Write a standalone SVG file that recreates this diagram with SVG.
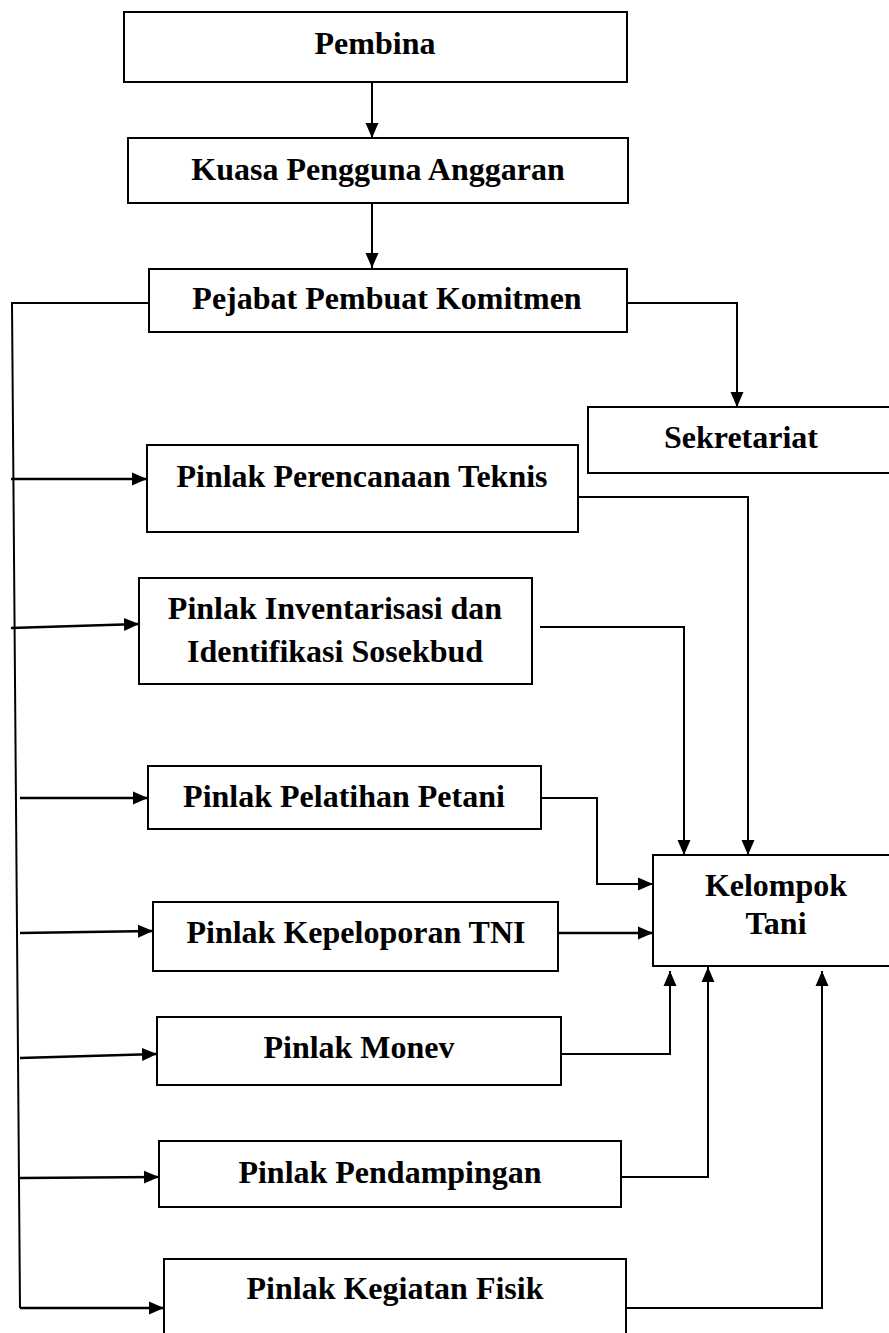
<svg xmlns="http://www.w3.org/2000/svg" width="889" height="1333" viewBox="0 0 889 1333">
<style>
.box{fill:#fff;stroke:#000;stroke-width:2}
.t{font-family:"Liberation Serif","Times New Roman",serif;font-weight:bold;font-size:32px;fill:#000;text-anchor:middle}
.c{fill:none;stroke:#000;stroke-width:2}
.b{stroke-width:2.6}
.a{marker-end:url(#ah)}
</style>
<defs>
<marker id="ah" markerUnits="userSpaceOnUse" markerWidth="16" markerHeight="14" refX="15" refY="7" orient="auto">
<path d="M0,0.5 L15,7 L0,13.5 Z" fill="#000"/>
</marker>
</defs>
<rect width="889" height="1333" fill="#fff"/>
<g id="connectors">
<path class="c a" d="M372,82 V138"/>
<path class="c a" d="M372,203 V268"/>
<path class="c a" d="M627,303 H737 V407"/>
<path class="c" d="M149,303 H12 L20,1308"/>
<path class="c b a" d="M11,479 H147"/>
<path class="c b a" d="M11,628 L139,624"/>
<path class="c b a" d="M20,798 H148"/>
<path class="c b a" d="M20,933 L153,931"/>
<path class="c b a" d="M20,1058 L157,1054"/>
<path class="c b a" d="M20,1178 L159,1177"/>
<path class="c b a" d="M20,1308 H164"/>
<path class="c a" d="M578,497 H748 V855"/>
<path class="c a" d="M540,627 H684 V855"/>
<path class="c a" d="M541,798 H597 V884 H653"/>
<path class="c b a" d="M558,933 H653"/>
<path class="c a" d="M561,1054 H670 V971"/>
<path class="c a" d="M621,1177 H708 V967"/>
<path class="c a" d="M626,1308 H822 V971"/>
</g>
<g id="pembina"><rect class="box" x="124" y="12" width="503" height="70"/><text class="t" x="375" y="54">Pembina</text></g>
<g id="kpa"><rect class="box" x="128" y="138" width="500" height="65"/><text class="t" x="378" y="180">Kuasa Pengguna Anggaran</text></g>
<g id="ppk"><rect class="box" x="149" y="269" width="478" height="63"/><text class="t" x="387" y="309">Pejabat Pembuat Komitmen</text></g>
<g id="sekretariat"><rect class="box" x="588" y="407" width="320" height="66"/><text class="t" x="741" y="448">Sekretariat</text></g>
<g id="perencanaan"><rect class="box" x="147" y="445" width="431" height="87"/><text class="t" x="362" y="487">Pinlak Perencanaan Teknis</text></g>
<g id="inventarisasi"><rect class="box" x="139" y="578" width="393" height="106"/><text class="t" x="335" y="619">Pinlak Inventarisasi dan</text><text class="t" x="335" y="662">Identifikasi Sosekbud</text></g>
<g id="pelatihan"><rect class="box" x="148" y="766" width="393" height="63"/><text class="t" x="344" y="807">Pinlak Pelatihan Petani</text></g>
<g id="kelompok"><rect class="box" x="653" y="855" width="260" height="111"/><text class="t" x="776" y="896">Kelompok</text><text class="t" x="776" y="934">Tani</text></g>
<g id="kepeloporan"><rect class="box" x="153" y="902" width="405" height="69"/><text class="t" x="356" y="943">Pinlak Kepeloporan TNI</text></g>
<g id="monev"><rect class="box" x="157" y="1017" width="404" height="68"/><text class="t" x="359" y="1058">Pinlak Monev</text></g>
<g id="pendampingan"><rect class="box" x="159" y="1141" width="462" height="66"/><text class="t" x="390" y="1183">Pinlak Pendampingan</text></g>
<g id="fisik"><rect class="box" x="164" y="1259" width="462" height="100"/><text class="t" x="395" y="1299">Pinlak Kegiatan Fisik</text></g>
</svg>
